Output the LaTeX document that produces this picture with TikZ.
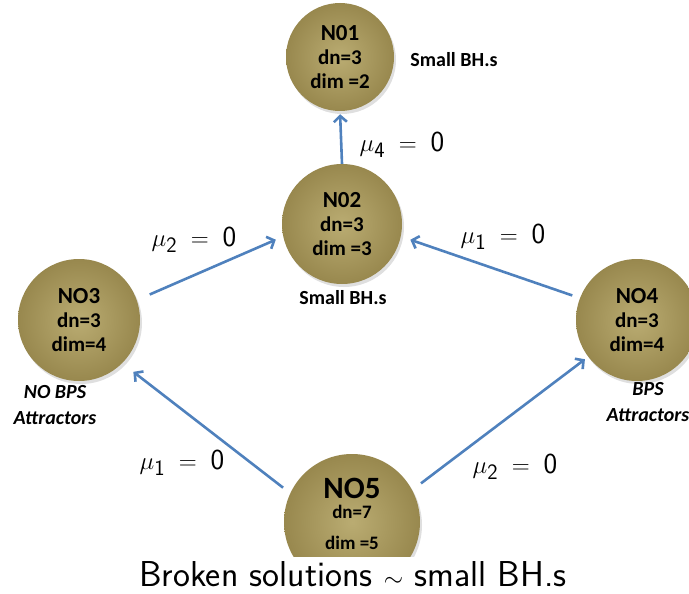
\documentclass[tikz,border=0pt]{standalone}
\usepackage{fontspec}
\setmainfont{Carlito}
\usetikzlibrary{arrows.meta,shadows}
\definecolor{arrowblue}{RGB}{79,129,189}
\definecolor{olivein}{RGB}{186,172,114}
\definecolor{oliveout}{RGB}{152,136,78}
\newfontfamily\lmsans{Latin Modern Sans}
\newcommand{\mysub}[1]{\mbox{\lmsans\fontsize{22}{22}\selectfont #1}}
\newcommand{\mylab}[2]{$\mu_{\mysub{#1}}\;=\;\mbox{\lmsans #2}$}
\tikzset{
  ball/.style={circle, draw=none, inner color=olivein, outer color=oliveout,
    align=center, font=\bfseries\fontsize{21}{24}\selectfont,
    drop shadow={shadow xshift=2pt, shadow yshift=-3pt, opacity=0.25}},
  conn/.style={draw=arrowblue, line width=2.6pt, -{Straight Barb[length=6pt,width=13pt]}},
  mulab/.style={font=\fontsize{29}{31}\selectfont},
  note/.style={font=\bfseries\fontsize{20}{22}\selectfont, align=center},
  inote/.style={font=\bfseries\itshape\fontsize{20}{26}\selectfont, align=center}
}
\begin{document}
\begin{tikzpicture}[x=1pt,y=-1pt]
\useasboundingbox (0,0) rectangle (689,594);
\clip (0,0) rectangle (689,594);
\node[ball, minimum size=108pt] (n1) at (340,57) {{\fontsize{23}{24}\selectfont N01}\\dn=3\\dim =2};
\node[ball, minimum size=120pt] (n2) at (342,224) {{\fontsize{23}{24}\selectfont N02}\\dn=3\\dim =3};
\node[ball, minimum size=122pt] (n3) at (79,320) {{\fontsize{23}{24}\selectfont NO3}\\dn=3\\dim=4};
\node[ball, minimum size=122pt] (n4) at (637,320) {{\fontsize{23}{24}\selectfont NO4}\\dn=3\\dim=4};
\node[ball, minimum size=136pt] (n5) at (352,522) {};
\node[font=\bfseries\fontsize{31}{33}\selectfont] (n5t) at (352,488) {NO5};
\node[font=\bfseries\fontsize{19}{20}\selectfont] (n5a) at (352,512) {dn=7};
\node[font=\bfseries\fontsize{19}{20}\selectfont] (n5b) at (352,543) {dim =5};

\node[fill=white, minimum width=689pt, minimum height=40pt, inner sep=0pt] (band) at (344.5,577) {};
\node[font=\lmsans\fontsize{36}{38}\selectfont] (cap) at (353,574) {Broken solutions $\sim$ small BH.s};

\node[note] (s1) at (454,60) {Small BH.s};
\node[note] (s2) at (343,298) {Small BH.s};
\node[inote] (a3) at (55,405) {NO BPS\\Attractors};
\node[inote] (a4) at (648,402) {BPS\\Attractors};

\node[mulab] (m4) at (402,145) {\mylab{4}{0}};
\node[mulab] (m2a) at (194,240) {\mylab{2}{0}};
\node[mulab] (m1a) at (503,237) {\mylab{1}{0}};
\node[mulab] (m1b) at (182,463) {\mylab{1}{0}};
\node[mulab] (m2b) at (515,467) {\mylab{2}{0}};

\draw[conn, shorten >=3pt] (n2.north) -- (n1.south);
\draw[conn, shorten <=14pt, shorten >=8pt] (n3.19) -- (n2.192);
\draw[conn, shorten <=8pt, shorten >=10pt] (n4.159) -- (n2.-12);
\draw[conn, shorten <=9pt, shorten >=14pt] (n5.155) -- (n3.-45);
\draw[conn, shorten <=11pt, shorten >=4pt] (n5.28) -- (n4.217);
\end{tikzpicture}
\end{document}
